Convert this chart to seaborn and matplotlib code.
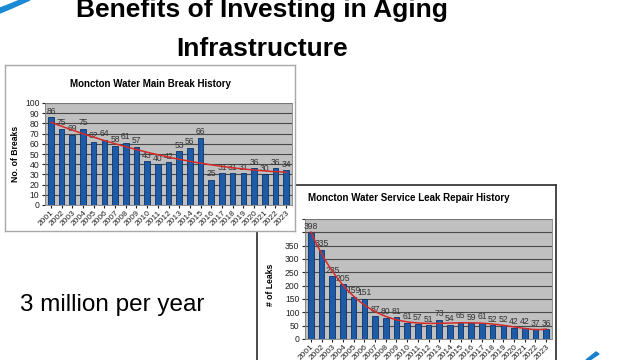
import numpy as np
import pandas as pd
import matplotlib
matplotlib.use('Agg')
import matplotlib.pyplot as plt
import seaborn as sns
from matplotlib.patches import Polygon

plt.rcParams['font.family'] = ['Liberation Sans', 'DejaVu Sans']

# data
years = [str(y) for y in range(2001, 2024)]
breaks = [86, 75, 69, 75, 62, 64, 58, 61, 57, 43, 40, 42, 53, 56, 66, 25, 31, 31, 31, 36, 30, 36, 34]
leaks = [398, 335, 235, 205, 159, 151, 87, 80, 81, 61, 57, 51, 73, 54, 65, 59, 61, 52, 52, 42, 42, 37, 36]

slide_title = 'Benefits of Investing in Aging\nInfrastructure'
title1 = 'Moncton Water Main Break History'
title2 = 'Moncton Water Service Leak Repair History'
note = '3 million per year'

W, H = 640, 360
BAR = '#1d5ba6'
EDGE = '#0c336b'
PLOTBG = '#c0c0c0'
GRID = '#4a4a4a'
TREND = '#d42a2a'


def px(x0, y0, x1, y1):
    # pixel box (top-down) -> figure fraction rect
    return [x0 / W, 1 - y1 / H, (x1 - x0) / W, (y1 - y0) / H]


def blank(ax, edge, lw):
    ax.set_xticks([])
    ax.set_yticks([])
    ax.set_facecolor('white')
    for s in ax.spines.values():
        s.set_color(edge)
        s.set_linewidth(lw)


def bar_chart(ax, values, deg, ymax, step, label_max):
    df = pd.DataFrame({'year': years, 'value': values})
    sns.barplot(data=df, x='year', y='value', ax=ax, color=BAR, width=0.52,
                edgecolor=EDGE, linewidth=0.6, saturation=1, zorder=3)
    ax.bar_label(ax.containers[0], fontsize=6.2, padding=1, color='#333333')
    t = np.arange(len(values))
    tt = np.linspace(0, len(values) - 1, 200)
    fit = np.polyval(np.polyfit(t, values, deg), tt)
    sns.lineplot(x=tt, y=fit, ax=ax, color=TREND, lw=1.1, zorder=4)
    ax.set_facecolor(PLOTBG)
    ax.set_ylim(0, ymax)
    ax.set_xlim(-0.55, len(values) - 0.45)
    ticks = np.arange(0, ymax + 1, step)
    ax.set_yticks(ticks)
    ax.set_yticklabels([str(int(v)) if v <= label_max else '' for v in ticks])
    ax.yaxis.grid(True, color=GRID, lw=0.8, zorder=1)
    ax.set_axisbelow(True)
    ax.tick_params(axis='y', labelsize=6.2, length=2, pad=2, colors='#222222')
    ax.tick_params(axis='x', labelsize=6, length=2, pad=1, colors='#222222')
    plt.setp(ax.get_xticklabels(), rotation=45, ha='right', rotation_mode='anchor')
    ax.set_xlabel('')
    for s in ax.spines.values():
        s.set_color('#808080')
        s.set_linewidth(0.6)


fig = plt.figure(figsize=(6.4, 3.6), dpi=100)

# second chart frame (sits behind the first one)
box2 = fig.add_axes(px(257, 185, 556, 375))
blank(box2, '#3a3a3a', 1.3)
ax2 = fig.add_axes(px(305, 219, 552, 339))
bar_chart(ax2, leaks, 6, 450, 50, 350)
ax2.set_ylabel('# of Leaks', fontsize=6.2, fontweight='bold')
ax2.yaxis.set_label_coords(-0.12, 0.45)

# first chart frame
box1 = fig.add_axes(px(5, 65, 295, 231))
blank(box1, '#a8a8a8', 1.0)
ax1 = fig.add_axes(px(45, 103, 292, 205))
bar_chart(ax1, breaks, 2, 100, 10, 100)
ax1.set_ylabel('No. of Breaks', fontsize=6.2, fontweight='bold')
ax1.yaxis.set_label_coords(-0.10, 0.5)

fig.text(150 / W, 1 - 84 / H, title1, ha='center', va='center', fontsize=7, fontweight='bold')
fig.text(308 / W, 1 - 198 / H, title2, ha='left', va='center', fontsize=7, fontweight='bold')

fig.text(262 / W, 1 - 17 / H, slide_title.split('\n')[0], ha='center', va='baseline',
         fontsize=19, fontweight='bold')
fig.text(262 / W, 1 - 56 / H, slide_title.split('\n')[1], ha='center', va='baseline',
         fontsize=19, fontweight='bold')
fig.text(20 / W, 1 - 311 / H, note, ha='left', va='baseline', fontsize=17.5)

# small blue swoosh decorations
fig.patches.append(Polygon([[0, 1 - 13 / H], [12 / W, 1 - 8 / H], [30 / W, 1], [20 / W, 1],
                            [8 / W, 1 - 5 / H], [0, 1 - 8 / H]],
                           closed=True, transform=fig.transFigure, color='#1a8ad4', zorder=5))
fig.patches.append(Polygon([[586 / W, 0], [596 / W, 1 - 352 / H], [599 / W, 1 - 354 / H], [590 / W, 0]],
                           closed=True, transform=fig.transFigure, color='#1a7fd0', zorder=5))

fig.savefig('out.png', dpi=100)
